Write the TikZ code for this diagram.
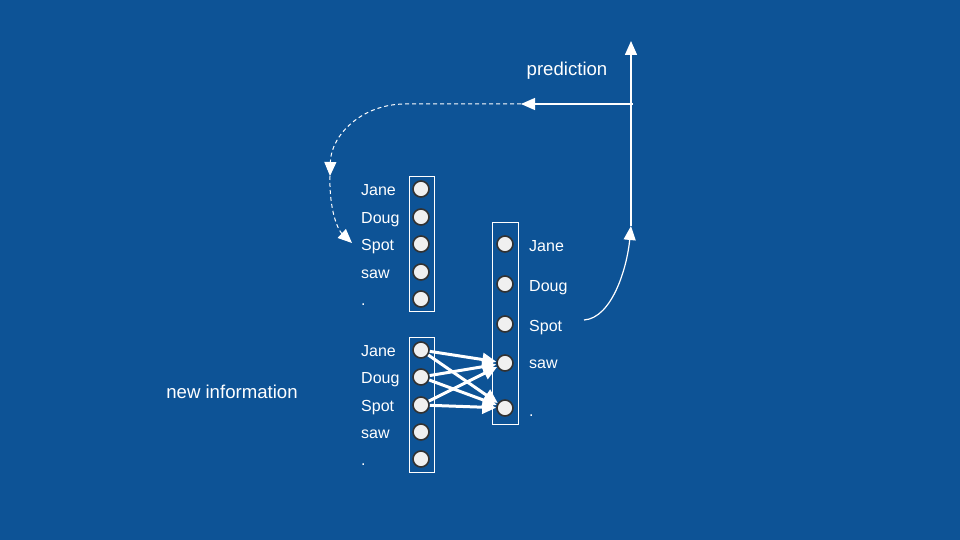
\documentclass[tikz,border=0pt]{standalone}
\usepackage{fontspec}
\setmainfont{Liberation Sans}
\usetikzlibrary{arrows.meta}
\definecolor{bg}{RGB}{13,83,150}
\definecolor{dotfill}{RGB}{240,240,240}
\definecolor{dotline}{RGB}{50,50,50}
\begin{document}
\begin{tikzpicture}[x=1pt,y=-1pt,
  unit/.style={circle,draw=dotline,fill=dotfill,line width=1.6pt,minimum size=16pt,inner sep=0pt},
  colbox/.style={draw=white,line width=0.8pt,inner sep=0pt},
  lab/.style={text=white,font=\fontsize{16}{18}\selectfont,inner sep=0pt,anchor=base west},
  big/.style={text=white,font=\fontsize{18.6}{20}\selectfont,inner sep=0pt,anchor=base},
  flow/.style={white,line width=3pt,-{Triangle[length=14pt,width=13pt]}},
  tip/.style={-{Triangle[length=14pt,width=12pt]}}]
\fill[bg] (0,0) rectangle (960,540);
\useasboundingbox (0,0) rectangle (960,540);
% column boxes
\node[colbox,minimum width=25pt,minimum height=135pt] (boxA) at (421.5,243.5) {};
\node[colbox,minimum width=25pt,minimum height=135pt] (boxB) at (421.5,404.5) {};
\node[colbox,minimum width=26pt,minimum height=202pt] (boxC) at (505,323) {};
% top-left column
\foreach \y/\t [count=\i] in {189/Jane,217/Doug,244/Spot,272/saw,299/.}{
  \node[unit] (a\i) at (421,\y) {};
  \node[lab] (la\i) at (361,\y+6) {\t};
}
% bottom-left column
\foreach \y/\t [count=\i] in {350/Jane,377/Doug,405/Spot,432/saw,459/.}{
  \node[unit] (b\i) at (421,\y) {};
  \node[lab] (lb\i) at (361,\y+6) {\t};
}
% right column
\foreach \y/\t [count=\i] in {244/Jane,284/Doug,324/Spot,363/saw,408/.}{
  \node[unit] (c\i) at (505,\y) {};
}
\foreach \y/\t [count=\i] in {251/Jane,291/Doug,331/Spot,368/saw,416/.}{
  \node[lab] (lc\i) at (529,\y) {\t};
}
% connections
\foreach \s in {1,2,3}{
  \draw[flow] (b\s) -- (c4);
  \draw[flow] (b\s) -- (c5);
}
% texts
\node[big] (pred) at (567,76) {prediction};
\node[big] (newinfo) at (232,398) {new information};
% prediction loop
\coordinate (spotout) at (584,320);
\coordinate (up1) at (631,226);
\coordinate (top) at (631,41);
\coordinate (corner) at (633,104);
\coordinate (hl) at (521,104);
\coordinate (dl) at (405,104);
\coordinate (mid) at (330,176);
\coordinate (endd) at (352,243);
\draw[white,line width=1.2pt,tip] (spotout) .. controls (612,318) and (627,268) .. (up1);
\draw[white,line width=1.5pt,tip] (up1) -- (top);
\draw[white,line width=1.2pt,tip] (corner) -- (hl);
\draw[white,line width=1pt,dash pattern=on 4pt off 3pt,tip] (hl) -- (dl) .. controls (362,104) and (331,135) .. (mid);
\draw[white,line width=1pt,dash pattern=on 4pt off 3pt,tip] (mid) .. controls (329,210) and (338,230) .. (endd);
\end{tikzpicture}
\end{document}
